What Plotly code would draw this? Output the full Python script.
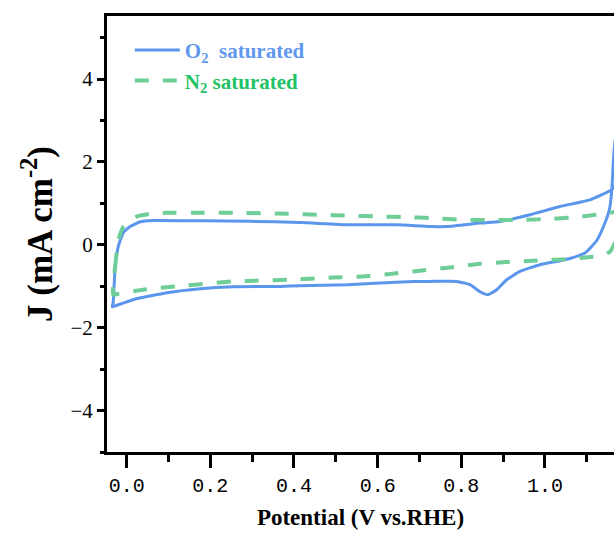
import plotly.graph_objects as go

# O2 saturated CV (potential V vs RHE, current density mA cm-2)
o2_potential = [-0.0346, -0.0323, -0.0275, -0.0203, -0.0084, 0.0084, 0.0323, 0.0633, 0.1756,
                0.2951, 0.4145, 0.5269, 0.6464, 0.7252, 0.7658, 0.8447, 0.8925, 0.9642,
                1.0358, 1.1075, 1.1594, 1.1649, 1.1792, 1.1912, 1.198, 1.185, 1.172,
                1.1655, 1.1625, 1.1600, 1.1540, 1.1434, 1.1243, 1.0956, 1.0597, 1.0358,
                0.9881, 0.9403, 0.9085, 0.8846, 0.8638, 0.8447, 0.8208, 0.7897, 0.7252,
                0.6846, 0.5269, 0.4145, 0.3668, 0.2545, 0.1756, 0.0961, 0.0155, -0.0315,
                -0.0346]
o2_current = [-1.494, -1.398, -0.530, -0.048, 0.289, 0.441, 0.554, 0.586, 0.578,
              0.566, 0.537, 0.482, 0.482, 0.441, 0.441, 0.523, 0.561, 0.723,
              0.923, 1.084, 1.325, 1.398, 1.518, 1.807, 3.98, 3.60, 2.85,
              2.30, 1.85, 1.35, 0.85, 0.530, 0.110, -0.200, -0.330, -0.386,
              -0.482, -0.643, -0.843, -1.084, -1.205, -1.133, -0.964, -0.884, -0.884,
              -0.884, -0.964, -0.988, -1.005, -1.012, -1.060, -1.157, -1.325, -1.487,
              -1.494]

# N2 saturated CV
n2_potential = [-0.0323, -0.0275, -0.0196, -0.0076, 0.0244, 0.0562, 0.0968, 0.1756, 0.2545,
                0.3979, 0.4576, 0.5269, 0.5986, 0.6655, 0.7324, 0.8041, 0.8758, 0.9475,
                1.0191, 1.0884, 1.1553, 1.1649, 1.1792, 1.1888, 1.1792, 1.1649, 1.1553,
                1.1314, 1.1147, 1.0669, 0.9809, 0.9092, 0.8447, 0.7730, 0.7013, 0.6344,
                0.5651, 0.4934, 0.4552, 0.3907, 0.2545, 0.1350, 0.0394, -0.0227, -0.0323]
n2_current = [-1.205, -0.523, 0.120, 0.441, 0.682, 0.747, 0.771, 0.771, 0.771,
              0.747, 0.723, 0.706, 0.682, 0.667, 0.643, 0.602, 0.595, 0.602,
              0.627, 0.682, 0.771, 0.795, 0.843, 0.964, 0.241, 0.0, -0.169,
              -0.277, -0.289, -0.337, -0.378, -0.417, -0.458, -0.547, -0.627, -0.699,
              -0.764, -0.788, -0.812, -0.843, -0.884, -0.988, -1.084, -1.188, -1.205]

x_ticks = [0.0, 0.2, 0.4, 0.6, 0.8, 1.0]
x_ticktext = ["0.0", "0.2", "0.4", "0.6", "0.8", "1.0"]
y_ticks = [-4, -2, 0, 2, 4]
y_ticktext = ["\u22124", "\u22122", "0", "2", "4"]

BLUE = "#5a97ec"
GREEN_LINE = "#6fce97"
BLUE_TXT = "#5f98ee"
GREEN_TXT = "#22c366"

fig = go.Figure()
fig.add_trace(go.Scatter(
    x=o2_potential, y=o2_current, mode="lines",
    line=dict(color=BLUE, width=3, shape="spline", smoothing=0.4),
    name=f"<span style='color:{BLUE_TXT}'><b>O<sub>2</sub>  saturated</b></span>",
))
fig.add_trace(go.Scatter(
    x=n2_potential, y=n2_current, mode="lines",
    line=dict(color=GREEN_LINE, width=4, dash="14px,14px", shape="spline", smoothing=0.5),
    name=f"<span style='color:{GREEN_TXT}'><b>N<sub>2</sub> saturated</b></span>",
))

fig.update_layout(
    width=614, height=541,
    margin=dict(l=107, r=0, t=16, b=89),
    paper_bgcolor="white", plot_bgcolor="white",
    showlegend=True,
    legend=dict(x=0.045, y=0.968, xanchor="left", yanchor="top",
                bgcolor="rgba(0,0,0,0)",
                font=dict(family="Liberation Serif", size=21),
                tracegroupgap=0, itemwidth=45),
    font=dict(family="Liberation Serif", color="black"),
)
fig.update_xaxes(
    range=[-0.047, 1.165], showgrid=False, zeroline=False,
    showline=True, linecolor="black", linewidth=3, mirror=True,
    ticks="outside", ticklen=13, tickwidth=3, tickcolor="black",
    tickvals=x_ticks, ticktext=x_ticktext,
    tickfont=dict(family="Liberation Mono", size=20, color="black"),
    minor=dict(dtick=0.1, tick0=0, ticks="outside", ticklen=7, tickwidth=3, tickcolor="black"),
    title=dict(text="<b>Potential (V vs.RHE)</b>", font=dict(family="Liberation Serif", size=23),
               standoff=12),
)
fig.update_yaxes(
    range=[-5, 5.52], showgrid=False, zeroline=False,
    showline=True, linecolor="black", linewidth=3,
    ticks="outside", ticklen=7, tickwidth=3, tickcolor="black",
    tickvals=y_ticks, ticktext=y_ticktext,
    tickfont=dict(family="Liberation Serif", size=21, color="black"),
    minor=dict(dtick=1, tick0=0, ticks="outside", ticklen=4, tickwidth=3, tickcolor="black"),
    title=dict(text="<b>J (mA cm<sup>-2</sup>)</b>", font=dict(family="Liberation Serif", size=35),
               standoff=8),
)

fig.write_html("out.html")
